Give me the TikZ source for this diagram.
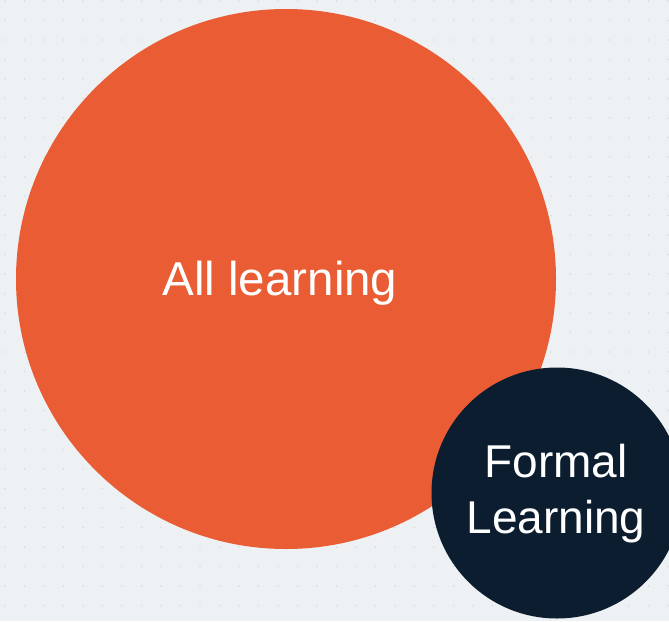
\documentclass[tikz,border=0pt]{standalone}
\usepackage{fontspec}
\setmainfont{Liberation Sans}
\usetikzlibrary{positioning}
\definecolor{bgpaper}{HTML}{EEF1F3}
\definecolor{bgdot}{HTML}{D6DCE0}
\definecolor{allorange}{HTML}{E95C34}
\definecolor{formalnavy}{HTML}{0B1D2E}
\tikzset{
	bubble/.style={circle,inner sep=0pt,draw=none},
	bubbletext/.style={text=white,align=center,inner sep=0pt}
}

\begin{document}
\begin{tikzpicture}[x=1pt,y=-1pt]
		\fill[bgpaper] (0,0) rectangle (669,621);
		\useasboundingbox (0,0) rectangle (669,621);
		\foreach \i in {0,...,34}
			\foreach \j in {0,...,31}
				\fill[bgdot] (5+19.5*\i,1+19.5*\j) circle (0.9pt);
		\node[bubble,fill=allorange,minimum size=540pt] (all) at (286,279) {};
		\node[bubble,fill=formalnavy,minimum size=251pt] (formal) at (557,493) {};
		\node[bubbletext,font=\fontsize{47.5}{56}\selectfont] (alltext) at (280,283) {All learning};
		\node[bubbletext,font=\fontsize{46}{56}\selectfont] (formaltext) at (556,494) {Formal\\Learning};
	\end{tikzpicture}
\end{document}
